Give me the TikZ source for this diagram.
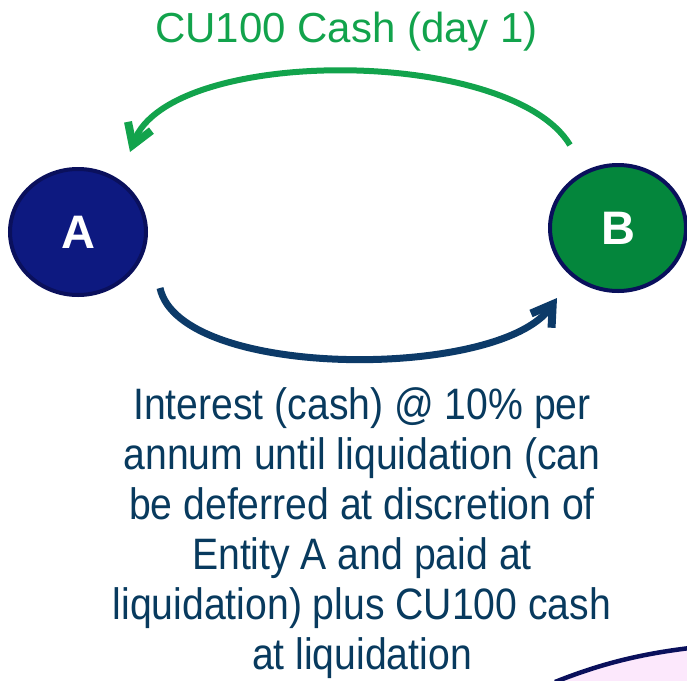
\documentclass[tikz,border=0pt]{standalone}
\usepackage{fontspec}
\setmainfont{Liberation Sans}
\newfontfamily\narrowsans[FakeStretch=0.89]{Liberation Sans}
\usetikzlibrary{arrows.meta,shapes.geometric}
\definecolor{cgreen}{RGB}{18,163,76}
\definecolor{cblue}{RGB}{12,58,104}
\definecolor{ctext}{RGB}{8,58,94}
\definecolor{anavy}{RGB}{13,25,128}
\definecolor{bgreen}{RGB}{4,134,60}
\definecolor{rim}{RGB}{10,16,92}
\definecolor{cpink}{RGB}{252,232,252}
\tikzset{
  party/.style={ellipse, draw=rim, line width=4pt, minimum width=136pt, minimum height=126pt,
    inner sep=0pt, text=white, font=\fontsize{47}{56}\selectfont\bfseries},
  flow/.style={line width=#1, -{Straight Barb[length=20pt,width=25pt,line width=8pt]}},
}
\begin{document}
\begin{tikzpicture}[x=1pt,y=-1pt]
\useasboundingbox (0,0) rectangle (687,680);
% entities
\node[party, fill=anavy] (A) at (78,232) {A};
\node[party, fill=bgreen] (B) at (618,228) {B};
% labels
\node[anchor=base, inner sep=0pt, text=cgreen, font=\fontsize{42}{50}\selectfont] (top) at (346.5,42) {CU100 Cash (day 1)};
\node[anchor=north, inner sep=0pt, align=center, text=ctext, font=\narrowsans\fontsize{44}{50}\selectfont] (bottom) at (362,387)
  {Interest (cash) @ 10\% per\\annum until liquidation (can\\be deferred at discretion of\\Entity A and paid at\\liquidation) plus CU100 cash\\at liquidation};
% connector ends
\coordinate (gs) at (570,145);
\coordinate (ge) at (130,152);
\coordinate (bs) at (160,288);
\coordinate (be) at (557,298);
% connectors
\draw[flow=6pt, draw=cgreen] (gs) .. controls (510,46) and (170,46) .. (ge);
\draw[flow=7pt, draw=cblue] (bs) .. controls (180,380) and (500,380) .. (be);
% pink shape at bottom right
\fill[cpink] (555,682) .. controls (600,664) and (640,654) .. (690,648) -- (690,685) -- (555,685) -- cycle;
\draw[rim, line width=4.5pt] (555,682) .. controls (600,664) and (640,654) .. (690,648);
\end{tikzpicture}
\end{document}
